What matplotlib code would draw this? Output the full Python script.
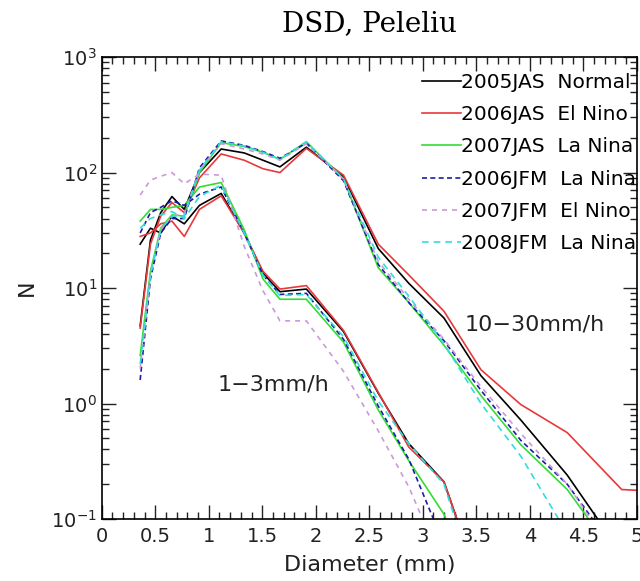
import numpy as np
import matplotlib
matplotlib.use("Agg")
import matplotlib.pyplot as plt
from matplotlib.ticker import MultipleLocator, LogLocator, NullFormatter

# Joss-Waldvogel bin centres (mm)
diam = [0.359, 0.455, 0.551, 0.656, 0.771, 0.913, 1.116, 1.331, 1.506, 1.665,
        1.912, 2.259, 2.584, 2.869, 3.198, 3.544, 3.916, 4.350, 4.859, 5.373]

labels = ['2005JAS  Normal', '2006JAS  El Nino', '2007JAS  La Nina',
          '2006JFM  La Nina', '2007JFM  El Nino', '2008JFM  La Nina']

# 10-30 mm/h
black_hi = [4.7, 26, 45, 62, 48, 100, 160, 148, 128, 112, 166, 92, 22, 11, 5.5, 1.74, 0.72, 0.24, 0.05, 0.01]
red_hi = [4.5, 24, 42, 55, 45, 90, 145, 128, 108, 100, 162, 95, 24, 13, 6.3, 1.96, 0.98, 0.56, 0.18, 0.17]
green_hi = [2.6, 14, 33, 43, 42, 100, 182, 168, 150, 130, 185, 88, 15, 7.5, 3.2, 1.17, 0.44, 0.18, 0.04, 0.01]
blue_hi = [1.6, 12, 30, 40, 40, 110, 188, 172, 152, 133, 180, 85, 16, 7.5, 3.5, 1.3, 0.48, 0.2, 0.045, 0.01]
pink_hi = [2.0, 13, 32, 42, 44, 105, 178, 160, 145, 128, 178, 88, 17, 8, 3.6, 1.4, 0.55, 0.2, 0.04, 0.01]
cyan_hi = [2.2, 13, 32, 42, 42, 105, 185, 170, 150, 130, 185, 88, 18.5, 8.5, 3.3, 1.0, 0.35, 0.075, 0.02, 0.01]

# 1-3 mm/h (first 16 bins)
black_lo = [24, 33, 30, 42, 36, 52, 66, 30, 13.5, 9.3, 9.8, 4.2, 1.23, 0.45, 0.21, 0.025]
red_lo = [28, 30, 36, 38, 28, 48, 63, 30, 14, 9.8, 10.5, 4.3, 1.25, 0.42, 0.21, 0.025]
green_lo = [38, 48, 48, 50, 52, 75, 82, 32, 12, 8.0, 8.0, 3.4, 0.88, 0.32, 0.11, 0.02]
blue_lo = [30, 45, 50, 57, 52, 65, 75, 30, 13, 8.8, 9.0, 3.6, 0.95, 0.33, 0.06, 0.01]
pink_lo = [64, 86, 93, 100, 80, 97, 95, 23, 9.5, 5.2, 5.2, 1.9, 0.58, 0.19, 0.037, 0.01]
cyan_lo = [33, 40, 43, 46, 40, 62, 78, 30, 13, 8.6, 8.8, 3.8, 1.05, 0.45, 0.2, 0.02]

colors = ['black', '#e8383c', '#33dd33', '#1c1ca8', '#cc99d8', '#33dddd']
styles = ['-', '-', '-', (0, (3, 2)), (0, (3, 3)), (0, (4, 3))]

hi = [black_hi, red_hi, green_hi, blue_hi, pink_hi, cyan_hi]
lo = [black_lo, red_lo, green_lo, blue_lo, pink_lo, cyan_lo]

fig = plt.figure(figsize=(6.4, 5.81), dpi=100)
ax = fig.add_axes([0.159, 0.1067, 0.836, 0.795])

for i in range(6):
    ax.plot(diam, hi[i], color=colors[i], ls=styles[i], lw=1.2, label=labels[i])
    ax.plot(diam[:len(lo[i])], lo[i], color=colors[i], ls=styles[i], lw=1.2)

ax.set_yscale('log')
ax.set_xlim(0, 5)
ax.set_ylim(0.1, 1000)
ax.xaxis.set_minor_locator(MultipleLocator(0.1))
ax.yaxis.set_minor_locator(LogLocator(base=10, subs=np.arange(2, 10)))
ax.yaxis.set_minor_formatter(NullFormatter())
ax.set_xticks([0, 0.5, 1, 1.5, 2, 2.5, 3, 3.5, 4, 4.5, 5])
ax.set_xticklabels(['0', '0.5', '1', '1.5', '2', '2.5', '3', '3.5', '4', '4.5', '5'])

ax.tick_params(which='both', direction='in', top=True, right=True, labelsize=14, colors='#222222')
ax.tick_params(which='major', length=10, width=1)
ax.tick_params(which='minor', length=5, width=1)
ax.tick_params(axis='x', pad=6)
for s in ax.spines.values():
    s.set_linewidth(1.2)

ax.set_xlabel('Diameter (mm)', fontsize=16, color='#222222', labelpad=6)
ax.set_ylabel('N', fontsize=16, color='#222222', labelpad=10)
ax.set_title('DSD, Peleliu', fontsize=20, family='DejaVu Serif', pad=19)

ax.text(3.39, 4.8, '10\u221230mm/h', fontsize=16, color='#222222', va='center')
ax.text(1.08, 1.45, '1\u22123mm/h', fontsize=16, color='#222222', va='center')

ax.legend(loc='upper right', bbox_to_anchor=(0.998, 0.965), frameon=False, fontsize=14.5,
          handlelength=1.9, handletextpad=0, borderpad=0, borderaxespad=0,
          labelspacing=0.65)

fig.savefig('out.png', dpi=100)
